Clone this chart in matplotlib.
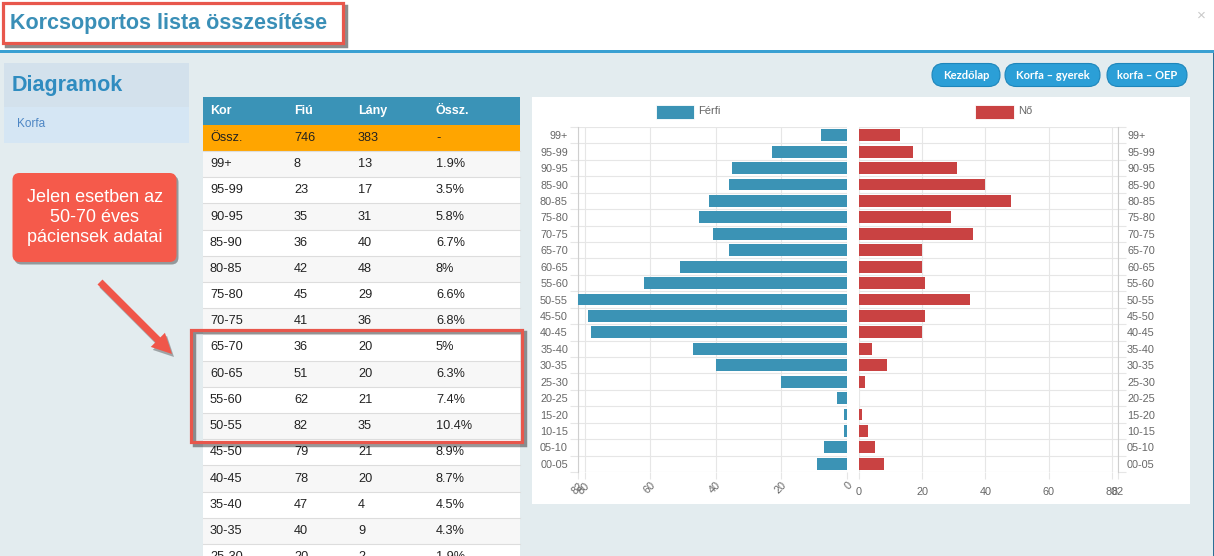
import matplotlib
matplotlib.use('Agg')
import matplotlib.pyplot as plt
from matplotlib.patches import Rectangle, FancyBboxPatch, FancyArrow
import numpy as np

plt.rcParams['font.family'] = ['Liberation Sans', 'DejaVu Sans']

W, H = 1214, 556

# ---------------- data ----------------
age_groups = ['99+', '95-99', '90-95', '85-90', '80-85', '75-80', '70-75', '65-70',
              '60-65', '55-60', '50-55', '45-50', '40-45', '35-40', '30-35', '25-30',
              '20-25', '15-20', '10-15', '05-10', '00-05']
ferfi = [8, 23, 35, 36, 42, 45, 41, 36, 51, 62, 82, 79, 78, 47, 40, 20, 3, 1, 1, 7, 9]
no_vals = [13, 17, 31, 40, 48, 29, 36, 20, 20, 21, 35, 21, 20, 4, 9, 2, 0, 1, 3, 5, 8]
table_pct = ['1.9%', '3.5%', '5.8%', '6.7%', '8%', '6.6%', '6.8%', '5%', '6.3%', '7.4%',
             '10.4%', '8.9%', '8.7%', '4.5%', '4.3%', '1.9%']
table_header = ['Kor', 'Fiú', 'Lány', 'Össz.']
total_row = ['Össz.', '746', '383', '-']
x_ticks = [0, 20, 40, 60, 80, 82]
buttons = ['Kezdőlap', 'Korfa – gyerek', 'korfa – OEP']
legend_labels = ['Férfi', 'Nő']
title = 'Korcsoportos lista összesítése'
callout_lines = ['Jelen esetben az', '50-70 éves', 'páciensek adatai']

BLUE = '#3b93b5'
RED = '#c94242'
PAGE = '#e3ecef'

fig = plt.figure(figsize=(W / 100, H / 100), dpi=100)
fig.patch.set_facecolor(PAGE)

bg = fig.add_axes([0, 0, 1, 1])
bg.set_xlim(0, W)
bg.set_ylim(H, 0)
bg.axis('off')

def rect(x0, y0, x1, y1, **kw):
    bg.add_patch(Rectangle((x0, y0), x1 - x0, y1 - y0, **kw))

# header area
rect(0, 0, W, 51, facecolor='white', edgecolor='none', zorder=1)
rect(0, 50, W, 53, facecolor='#3aa0d2', edgecolor='none', zorder=2)
rect(1212.5, 53, W, H, facecolor='#2b6f96', edgecolor='none', zorder=2)
bg.text(1201, 16, '×', fontsize=11, color='#c8c8c8', ha='center', va='center', zorder=3)

# title with red frame + shadow
rect(6, 6, 346, 46, facecolor='none', edgecolor=(0, 0, 0, 0.45), lw=2.5, zorder=3)
rect(3, 3, 343, 43, facecolor='white', edgecolor='#e8574c', lw=2.3, zorder=4)
bg.text(10, 24, title, fontsize=15.5, weight='bold', color='#3a8fb7', va='center', zorder=5)

# left panel
rect(4, 63, 189, 107, facecolor='#d3e1ec', edgecolor='none', zorder=2)
rect(4, 107, 189, 143, facecolor='#d5e6f4', edgecolor='none', zorder=2)
bg.text(12, 86, 'Diagramok', fontsize=15.5, weight='bold', color='#2f8cc0', va='center', zorder=3)
bg.text(17, 124, 'Korfa', fontsize=8.5, color='#4d86c4', va='center', zorder=3)

# callout
bg.add_patch(FancyBboxPatch((14.5, 175.5), 164, 89, boxstyle='round,pad=0,rounding_size=7',
                            facecolor=(0, 0, 0, 0.35), edgecolor='none', zorder=2))
bg.add_patch(FancyBboxPatch((12.5, 173), 164, 89, boxstyle='round,pad=0,rounding_size=7',
                            facecolor='#f55a4b', edgecolor='none', zorder=3))
for i, line in enumerate(callout_lines):
    bg.text(95, 198 + 20 * i, line, fontsize=13, color='white', ha='center', va='center', zorder=4)

# arrow
bg.add_patch(FancyArrow(102, 285, 72, 72, width=7, head_width=20, head_length=20,
                        length_includes_head=True, facecolor=(0, 0, 0, 0.3), edgecolor='none', zorder=2))
bg.add_patch(FancyArrow(100, 282, 72, 72, width=7, head_width=20, head_length=20,
                        length_includes_head=True, facecolor='#f0564a', edgecolor='none', zorder=3))

# buttons
btn_x = [(932, 1000), (1005, 1100), (1107, 1187)]
for (x0, x1), label in zip(btn_x, buttons):
    bg.add_patch(FancyBboxPatch((x0, 63.5), x1 - x0, 23, boxstyle='round,pad=0,rounding_size=11.5',
                                facecolor='#2b9fd7', edgecolor='#1d86bb', lw=0.8, zorder=3))
    bg.text((x0 + x1) / 2, 75.5, label, fontsize=8, weight='bold', color='white',
            ha='center', va='center', family=['Lato', 'DejaVu Sans'], zorder=4)

# table
TX0, TX1 = 203, 520
col_x = [210, 294, 358, 436]
rect(TX0, 97, TX1, H, facecolor='white', edgecolor='none', zorder=2)
rect(TX0, 97, TX1, 125, facecolor='#3a93b7', edgecolor='none', zorder=3)
for cx, s in zip(col_x, table_header):
    bg.text(cx, 111, s, fontsize=9, weight='bold', color='white', va='center', zorder=4)
rect(TX0, 125, TX1, 151, facecolor='#ffa500', edgecolor='none', zorder=3)
for cx, s in zip(col_x, total_row):
    bg.text(cx, 138, s, fontsize=9.2, color='#222222', va='center', zorder=4)
row_h = 26.2
for k in range(len(table_pct)):
    top = 151 + row_h * k
    rect(TX0, top, TX1, top + row_h, facecolor='#f7f7f7' if k % 2 == 0 else 'white',
         edgecolor='none', zorder=3)
    bg.plot([TX0, TX1], [top, top], color='#dddddd', lw=0.8, zorder=4)
    vals = [age_groups[k], str(ferfi[k]), str(no_vals[k]), table_pct[k]]
    for cx, s in zip(col_x, vals):
        bg.text(cx, top + row_h / 2, s, fontsize=9.2, color='#222222', va='center', zorder=5)

# highlight box
rect(194, 332, 525, 445, facecolor='none', edgecolor=(0, 0, 0, 0.4), lw=2.5, zorder=6)
rect(191, 330, 522, 442, facecolor='none', edgecolor='#e8574c', lw=2.3, zorder=7)

# chart panel
rect(532, 97, 1190, 504, facecolor='white', edgecolor='none', zorder=2)

# legend
for (x0, x1), lab, col in zip([(656, 694), (975, 1014)], legend_labels, [BLUE, RED]):
    rect(x0, 104.5, x1, 118.5, facecolor=col, edgecolor='white', lw=0.6, zorder=3)
    bg.text(x1 + 4, 111, lab, fontsize=8, color='#666666', va='center', zorder=3)

# ---------------- chart axes ----------------
def add_px_axes(x0, y0, x1, y1):
    return fig.add_axes([x0 / W, 1 - y1 / H, (x1 - x0) / W, (y1 - y0) / H])

n = len(age_groups)
pos = np.arange(n)
GRID = '#e6e6e6'
LAB = '#666666'
FS = 7.8

axL = add_px_axes(578, 127, 847, 472)
axR = add_px_axes(859, 127, 1118, 472)

axL.barh(pos, ferfi, height=0.72, color=BLUE, zorder=3)
axR.barh(pos, no_vals, height=0.72, color=RED, zorder=3)

for ax in (axL, axR):
    ax.set_facecolor('none')
    ax.set_ylim(n - 0.5, -0.5)
    ax.set_yticks(pos)
    ax.set_yticks(np.arange(-0.5, n, 1), minor=True)
    ax.set_xticks(x_ticks)
    ax.grid(axis='x', which='major', color=GRID, lw=0.8, zorder=0)
    ax.grid(axis='y', which='minor', color=GRID, lw=0.8, zorder=0)
    ax.grid(axis='y', which='major', visible=False)
    for s in ax.spines.values():
        s.set_visible(False)
    ax.tick_params(axis='y', which='major', length=0, labelsize=FS, labelcolor=LAB)
    ax.tick_params(axis='y', which='minor', length=6, color=GRID, width=0.8)
    ax.tick_params(axis='x', which='major', length=5, color=GRID, width=0.8,
                   labelsize=FS, labelcolor=LAB)

axL.set_xlim(82, 0)
axL.set_yticklabels(age_groups)
axL.tick_params(axis='y', which='major', pad=7.2)
axL.spines['left'].set_visible(True)
axL.spines['left'].set_color('#cfcfcf')
axL.spines['left'].set_linewidth(0.8)
axL.set_xticklabels([str(t) for t in x_ticks], rotation=45, ha='right', va='top',
                    rotation_mode='anchor')
axL.tick_params(axis='x', pad=1.0)

axR.set_xlim(0, 82)
axR.yaxis.tick_right()
axR.set_yticklabels(age_groups)
axR.tick_params(axis='y', which='both', left=False, right=True)
axR.tick_params(axis='y', which='major', pad=6.5)
axR.spines['right'].set_visible(True)
axR.spines['right'].set_color('#cfcfcf')
axR.spines['right'].set_linewidth(0.8)
axR.set_xticklabels([str(t) for t in x_ticks])
axR.tick_params(axis='x', pad=6)

fig.savefig('out.png', dpi=100, facecolor=fig.get_facecolor())
